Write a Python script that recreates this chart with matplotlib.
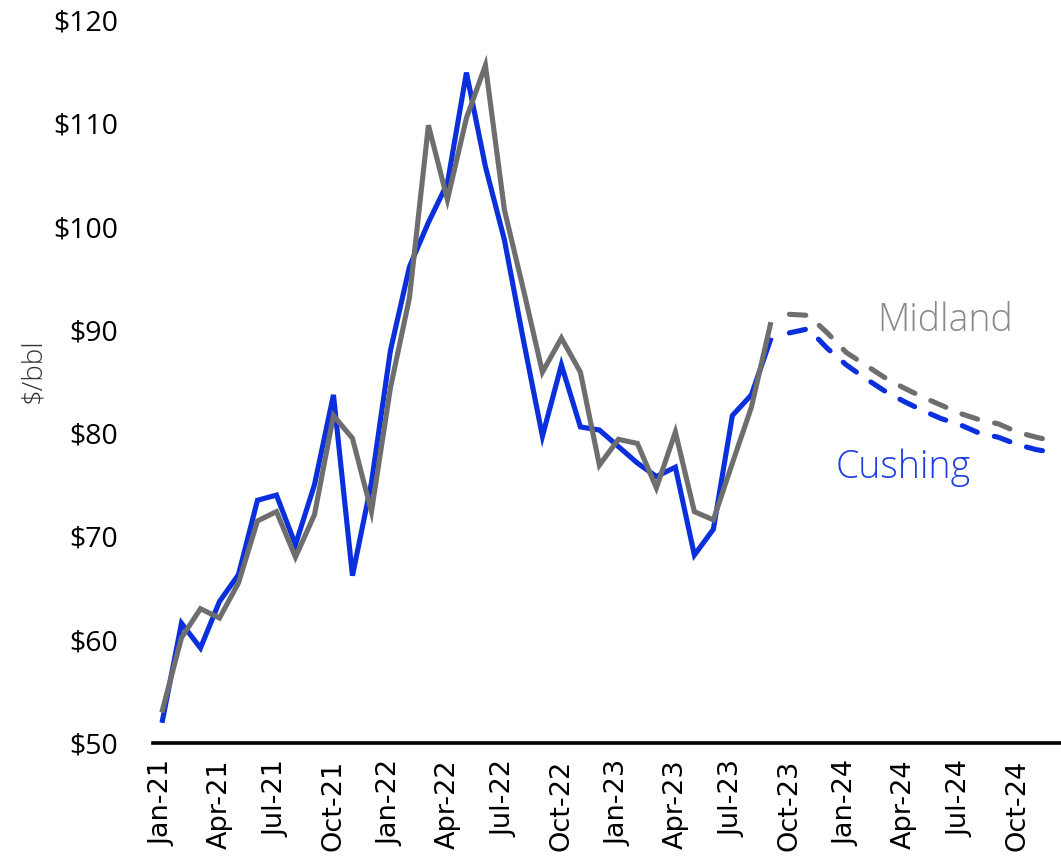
import matplotlib
matplotlib.use("Agg")
import matplotlib.pyplot as plt

# Month labels (Jan-21 .. Dec-24)
months = [f"{m}-{y}" for y in ["21", "22", "23", "24"]
          for m in ["Jan", "Feb", "Mar", "Apr", "May", "Jun",
                    "Jul", "Aug", "Sep", "Oct", "Nov", "Dec"]]
tick_labels = months[::3]

# Actual prices Jan-21 .. Sep-23 ($/bbl)
cushing_actual = [52.2, 61.6, 59.2, 63.7, 66.3, 73.5, 74.0, 69.2, 75.0, 83.7, 66.2, 75.2,
                  88.0, 96.1, 100.4, 104.2, 114.9, 105.8, 98.7, 89.0, 79.7, 86.6, 80.6, 80.3,
                  78.7, 77.1, 75.8, 76.7, 68.2, 70.7, 81.7, 83.7, 89.0]
midland_actual = [53.2, 60.2, 63.0, 62.1, 65.5, 71.5, 72.4, 68.0, 72.1, 81.7, 79.5, 72.4,
                  84.4, 93.1, 109.8, 102.6, 110.5, 115.6, 101.6, 93.9, 85.9, 89.2, 85.9, 76.9,
                  79.4, 79.0, 74.7, 80.1, 72.4, 71.6, 77.1, 82.5, 90.5]

# Forecast Oct-23 .. Dec-24
cushing_fcst = [89.7, 90.1, 88.2, 86.6, 85.3, 84.1, 83.1, 82.2, 81.4, 80.8, 80.0, 79.6, 78.9, 78.4, 78.1]
midland_fcst = [91.5, 91.4, 89.7, 87.8, 86.6, 85.4, 84.4, 83.5, 82.7, 81.9, 81.3, 80.9, 80.1, 79.6, 79.2]

blue = "#0A2FDC"
gray = "#6E6E6E"

fig = plt.figure(figsize=(10.61, 8.65), dpi=100)
ax = fig.add_axes([0.1442, 0.141, 0.8558, 0.836])

n_act = len(cushing_actual)
x_act = list(range(n_act))
x_fc = list(range(n_act, n_act + len(cushing_fcst)))

lw = 3.7
ax.plot(x_act, cushing_actual, color=blue, lw=lw, solid_joinstyle="miter", clip_on=False, zorder=3)
ax.plot(x_act, midland_actual, color=gray, lw=lw, solid_joinstyle="miter", clip_on=False, zorder=4)
ax.plot(x_fc, cushing_fcst, color=blue, lw=lw, dashes=(3.2, 3.4), dash_capstyle="round", clip_on=False, zorder=3)
ax.plot(x_fc, midland_fcst, color=gray, lw=lw, dashes=(3.2, 3.4), dash_capstyle="round", clip_on=False, zorder=4)

ax.set_xlim(-0.5, 47.3)
ax.set_ylim(50, 120)
ax.set_yticks(range(50, 121, 10))
ax.set_yticklabels([f"${v}" for v in range(50, 121, 10)], fontsize=20.5, family="Open Sans")
ax.set_xticks(range(0, 48, 3))
ax.set_xticklabels(tick_labels, rotation=90, fontsize=19.5, family="DejaVu Sans")
ax.tick_params(axis="both", length=0)
ax.tick_params(axis="y", pad=25)
ax.tick_params(axis="x", pad=12)

for s in ["left", "right", "top"]:
    ax.spines[s].set_visible(False)
ax.spines["bottom"].set_linewidth(2.6)
ax.spines["bottom"].set_color("black")

fig.text(0.031, 0.572, "$/bbl", rotation=90, fontsize=20, color="#333333",
         family="Open Sans", fontweight="light", ha="center", va="center")

ax.text(41.2, 90.9, "Midland", color="#8A8A8A", fontsize=27, family="Open Sans",
        fontweight="light", ha="center", va="center")
ax.text(39.0, 76.6, "Cushing", color="#1F3FE3", fontsize=27, family="Open Sans",
        fontweight="light", ha="center", va="center")

fig.savefig("out.png", dpi=100)
